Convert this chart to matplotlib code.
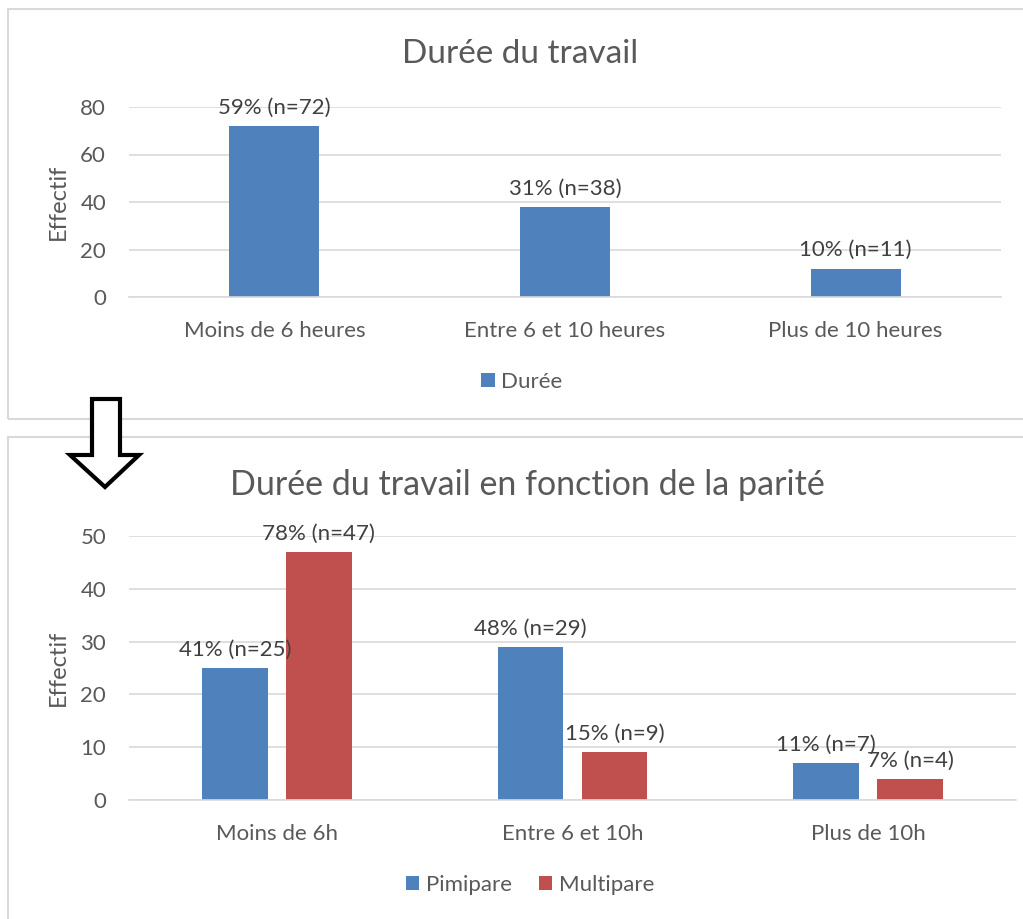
import matplotlib.pyplot as plt
import numpy as np
from matplotlib.patches import Rectangle, Polygon

plt.rcParams['font.family'] = ['Lato', 'DejaVu Sans']

# top chart data
cats_top = ['Moins de 6 heures', 'Entre 6 et 10 heures', 'Plus de 10 heures']
duree = [72, 38, 12]
labels_top = ['59% (n=72)', '31% (n=38)', '10% (n=11)']

# bottom chart data
cats_bot = ['Moins de 6h', 'Entre 6 et 10h', 'Plus de 10h']
pimipare = [25, 29, 7]
multipare = [47, 9, 4]
labels_pimi = ['41% (n=25)', '48% (n=29)', '11% (n=7)']
labels_multi = ['78% (n=47)', '15% (n=9)', '7% (n=4)']

BLUE = '#4F81BD'
RED = '#C0504D'
GRID = '#d9d9d9'
TXT = '#595959'
FS = 16

W, H = 1023, 919
fig = plt.figure(figsize=(W / 100, H / 100), dpi=100)


def fx(px):
    return px / W


def fy(py):
    return 1 - py / H


# panel frames
fig.patches.append(Rectangle((fx(8), fy(419)), fx(1040) - fx(8), fy(9) - fy(419),
                             transform=fig.transFigure, fill=False, edgecolor=GRID, lw=1.5))
fig.patches.append(Rectangle((fx(8), fy(960)), fx(1040) - fx(8), fy(437) - fy(960),
                             transform=fig.transFigure, fill=False, edgecolor=GRID, lw=1.5))


def style(ax, ymax, step):
    ax.set_ylim(0, ymax)
    ax.set_yticks(np.arange(0, ymax + 1, step))
    ax.set_xlim(-0.5, 2.5)
    ax.grid(axis='y', color=GRID, lw=1.2)
    ax.set_axisbelow(True)
    for s in ['top', 'right', 'left']:
        ax.spines[s].set_visible(False)
    ax.spines['bottom'].set_color(GRID)
    ax.spines['bottom'].set_linewidth(1.2)
    ax.tick_params(length=0, labelsize=FS, labelcolor=TXT)
    ax.tick_params(axis='y', pad=16.5)
    ax.tick_params(axis='x', pad=17)
    ax.set_ylabel('Effectif', fontsize=17, color=TXT, labelpad=8)


def bar_labels(ax, xs, vals, texts):
    for xi, v, t in zip(xs, vals, texts):
        ax.annotate(t, (xi, v), xytext=(0, 6), textcoords='offset points',
                    ha='center', va='bottom', fontsize=FS, color='#404040')


# top chart
ax1 = fig.add_axes([fx(129), fy(297), fx(1001) - fx(129), fy(107) - fy(297)])
x = np.arange(len(cats_top))
b = ax1.bar(x, duree, width=0.31, color=BLUE, label='Durée')
bar_labels(ax1, x, duree, labels_top)
ax1.set_xticks(x, cats_top)
style(ax1, 80, 20)
fig.text(fx(520), fy(54), 'Durée du travail', ha='center', va='center', fontsize=24, color=TXT)
fig.legend(handles=[b], loc='center', bbox_to_anchor=(fx(522), fy(382)), frameon=False,
           fontsize=FS, labelcolor=TXT, handlelength=0.6, handleheight=0.6, handletextpad=0.3)

# bottom chart
ax2 = fig.add_axes([fx(129), fy(800), fx(1016) - fx(129), fy(536) - fy(800)])
x = np.arange(len(cats_bot))
off = 0.142
w = 0.223
b1 = ax2.bar(x - off, pimipare, width=w, color=BLUE, label='Pimipare')
b2 = ax2.bar(x + off, multipare, width=w, color=RED, label='Multipare')
bar_labels(ax2, x - off, pimipare, labels_pimi)
bar_labels(ax2, x + off, multipare, labels_multi)
ax2.set_xticks(x, cats_bot)
style(ax2, 50, 10)
fig.text(fx(527), fy(485), 'Durée du travail en fonction de la parité', ha='center', va='center',
         fontsize=24.5, color=TXT)
fig.legend(handles=[b1, b2], loc='center', bbox_to_anchor=(fx(530), fy(885)), frameon=False, ncol=2,
           fontsize=FS, labelcolor=TXT, handlelength=0.6, handleheight=0.6, handletextpad=0.3,
           columnspacing=1.2)

# down arrow between the panels
arrow = [(92, 399), (120, 399), (120, 455), (139, 455), (105, 487), (70, 455), (92, 455)]
fig.patches.append(Polygon([(fx(px), fy(py)) for px, py in arrow], closed=True,
                           transform=fig.transFigure, facecolor='white', edgecolor='black', lw=3,
                           joinstyle='miter'))

fig.savefig('out.png', dpi=100)
